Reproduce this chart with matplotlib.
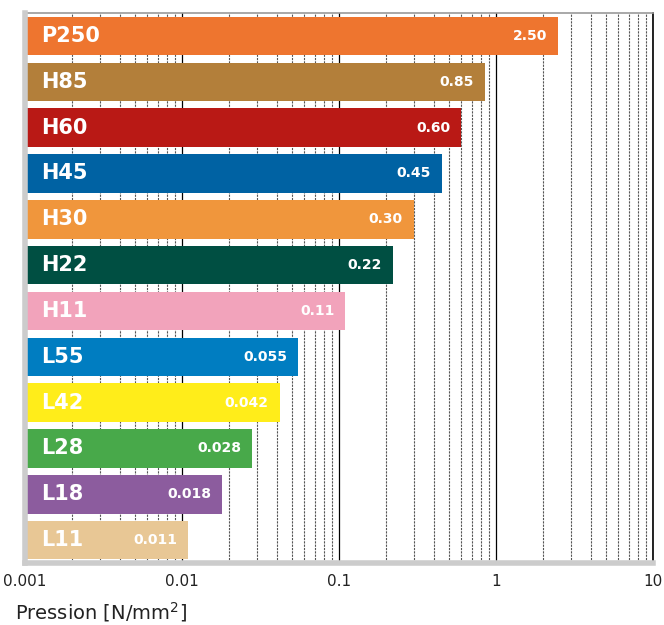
import matplotlib
matplotlib.use("Agg")
from matplotlib import pyplot as plt
from matplotlib.ticker import LogLocator, FixedLocator, NullFormatter

# data
names = ["P250", "H85", "H60", "H45", "H30", "H22", "H11",
         "L55", "L42", "L28", "L18", "L11"]
values = [2.50, 0.85, 0.60, 0.45, 0.30, 0.22, 0.11,
          0.055, 0.042, 0.028, 0.018, 0.011]
value_labels = ["2.50", "0.85", "0.60", "0.45", "0.30", "0.22", "0.11",
                "0.055", "0.042", "0.028", "0.018", "0.011"]
colors = ["#EE752F", "#B37F3A", "#B91915", "#0062A3", "#F0963C", "#004F42",
          "#F2A3BB", "#007DC1", "#FFED1A", "#48A94A", "#8C5C9E", "#E8C795"]
xticks = [0.001, 0.01, 0.1, 1, 10]
xtick_labels = ["0.001", "0.01", "0.1", "1", "10"]

fig = plt.figure(figsize=(6.64, 6.25), dpi=100)
ax = fig.add_axes([25 / 664, 1 - 563 / 625, 628 / 664, 550 / 625])

xmin = 0.001
ax.set_xscale("log")
ax.set_xlim(xmin, 10)
ax.set_ylim(11.5, -0.5)

# grid behind bars
ax.set_axisbelow(True)
ax.xaxis.set_major_locator(FixedLocator(xticks))
ax.xaxis.set_minor_locator(LogLocator(base=10, subs=range(2, 10)))
ax.xaxis.set_minor_formatter(NullFormatter())
ax.grid(which="major", axis="x", color="black", lw=0.9, ls="-")
ax.grid(which="minor", axis="x", color="#555555", lw=0.8, ls=(0, (2, 1)))

ypos = list(range(len(names)))
widths = [v - xmin for v in values]
ax.barh(ypos, widths, left=xmin, height=0.84, color=colors, zorder=2)

for y, n, v, lab in zip(ypos, names, values, value_labels):
    ax.annotate(n, (xmin, y), xytext=(11.5, 0), textcoords="offset points",
                ha="left", va="center", color="white", fontsize=15,
                fontweight="bold", zorder=3)
    ax.annotate(lab, (v, y), xytext=(-8, 0), textcoords="offset points",
                ha="right", va="center", color="white", fontsize=10,
                fontweight="bold", zorder=3)

ax.set_xticks(xticks)
ax.set_xticklabels(xtick_labels, fontsize=11, color="#222222")
ax.tick_params(axis="x", which="both", length=0, pad=8)
ax.set_yticks([])

for s in ["left", "bottom"]:
    ax.spines[s].set_color("#CCCCCC")
    ax.spines[s].set_linewidth(4)
    ax.spines[s].set_zorder(4)
ax.spines["top"].set_color("#999999")
ax.spines["top"].set_linewidth(1.2)
ax.spines["right"].set_color("black")
ax.spines["right"].set_linewidth(1.2)

fig.text(15 / 664, 1 - 612 / 625, "Pression [N/mm$^2$]", fontsize=14,
         ha="left", va="center", color="#222222")

fig.savefig("out.png", dpi=100)
